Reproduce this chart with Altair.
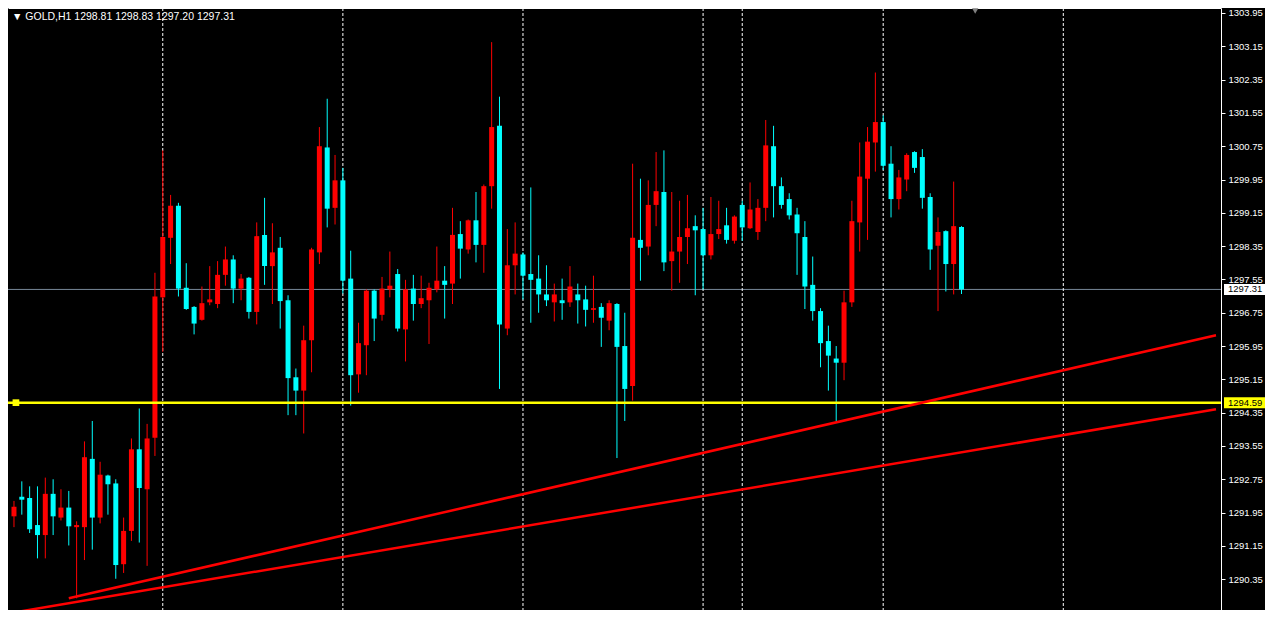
import altair as alt
import pandas as pd

# ---- candle data (GOLD, H1) ----
opens = [1291.86, 1292.33, 1292.30, 1291.65, 1291.41, 1292.40, 1291.83, 1292.07, 1291.60, 1291.60,
         1293.24, 1291.83, 1292.84, 1292.65, 1290.71, 1291.51, 1293.47, 1292.51, 1293.75, 1297.12,
         1298.55, 1299.32, 1297.35, 1296.89, 1296.58, 1297.00, 1296.96, 1297.66, 1298.03, 1297.33,
         1297.59, 1296.77, 1298.62, 1297.87, 1298.31, 1297.05, 1295.20, 1294.88, 1296.09, 1298.20,
         1300.72, 1299.27, 1299.93, 1297.57, 1295.27, 1295.97, 1297.28, 1296.70, 1297.31, 1297.68,
         1296.35, 1297.33, 1296.96, 1297.05, 1297.31, 1297.52, 1297.45, 1298.64, 1298.27, 1298.97,
         1298.38, 1299.79, 1301.24, 1296.37, 1297.89, 1298.15, 1297.68, 1297.57, 1297.19, 1297.00,
         1297.05, 1297.00, 1297.19, 1297.07, 1296.82, 1296.89, 1296.56, 1296.96, 1295.95, 1294.99,
         1298.50, 1298.34, 1299.34, 1299.65, 1297.99, 1298.22, 1298.57, 1298.83, 1298.76, 1298.13,
         1298.64, 1298.85, 1298.48, 1299.34, 1298.78, 1298.69, 1299.27, 1300.75, 1299.79, 1299.48,
         1299.11, 1298.57, 1297.42, 1296.79, 1296.07, 1295.65, 1295.55, 1297.00, 1298.92, 1299.97,
         1300.84, 1301.33, 1300.33, 1299.48, 1299.95, 1300.61, 1300.49, 1299.53, 1298.36, 1298.71,
         1297.92, 1298.81]
highs = [1292.23, 1292.70, 1292.58, 1292.58, 1292.79, 1292.75, 1292.51, 1292.47, 1291.74, 1293.66,
         1294.15, 1293.17, 1292.86, 1292.75, 1291.83, 1293.73, 1294.45, 1294.08, 1297.71, 1300.65,
         1299.58, 1299.39, 1297.94, 1296.91, 1297.38, 1297.87, 1297.99, 1298.34, 1298.13, 1297.68,
         1297.61, 1298.92, 1299.51, 1298.90, 1298.57, 1297.17, 1295.41, 1296.44, 1298.31, 1301.21,
         1301.89, 1300.54, 1300.23, 1298.24, 1296.51, 1297.31, 1297.31, 1297.61, 1298.22, 1297.80,
         1297.54, 1297.66, 1297.64, 1297.47, 1298.34, 1297.87, 1299.27, 1298.95, 1298.99, 1299.65,
         1299.83, 1303.25, 1301.94, 1298.76, 1298.92, 1298.20, 1299.76, 1298.13, 1297.89, 1297.45,
         1297.57, 1297.87, 1297.45, 1297.40, 1297.64, 1296.98, 1297.05, 1296.98, 1296.75, 1300.33,
         1299.97, 1299.93, 1300.61, 1300.65, 1299.65, 1299.44, 1299.58, 1299.09, 1299.27, 1299.53,
         1299.44, 1299.27, 1299.09, 1299.44, 1299.88, 1299.48, 1301.38, 1301.24, 1300.00, 1299.62,
         1299.27, 1298.95, 1298.10, 1296.86, 1296.44, 1295.95, 1297.28, 1299.44, 1300.84, 1301.21,
         1302.52, 1301.49, 1300.75, 1300.18, 1300.58, 1300.63, 1300.68, 1299.62, 1299.04, 1298.73,
         1299.90, 1298.83]
lows = [1291.60, 1291.90, 1291.46, 1290.85, 1290.85, 1291.41, 1291.76, 1291.16, 1289.89, 1290.81,
        1291.06, 1291.69, 1291.90, 1290.36, 1290.50, 1291.27, 1291.23, 1290.67, 1293.31, 1295.81,
        1297.92, 1297.14, 1296.82, 1296.23, 1296.56, 1296.93, 1296.86, 1297.40, 1296.98, 1297.05,
        1296.61, 1296.47, 1297.42, 1296.96, 1296.37, 1294.29, 1294.29, 1293.85, 1295.32, 1297.92,
        1298.80, 1298.87, 1297.21, 1294.52, 1294.83, 1295.25, 1296.07, 1296.56, 1297.12, 1296.30,
        1295.58, 1296.56, 1296.86, 1296.00, 1297.24, 1296.61, 1296.96, 1297.57, 1298.17, 1297.96,
        1297.71, 1299.25, 1294.92, 1296.21, 1297.19, 1297.07, 1296.51, 1296.75, 1296.91, 1296.54,
        1296.58, 1296.89, 1296.49, 1296.42, 1296.51, 1295.93, 1296.33, 1293.26, 1294.15, 1294.64,
        1297.52, 1298.13, 1298.83, 1297.75, 1297.28, 1297.47, 1297.92, 1297.17, 1297.31, 1298.03,
        1298.52, 1298.41, 1298.41, 1298.48, 1298.76, 1298.50, 1298.95, 1299.04, 1299.25, 1298.99,
        1297.66, 1296.84, 1296.56, 1295.44, 1294.88, 1294.15, 1295.13, 1296.89, 1298.22, 1298.50,
        1300.14, 1300.18, 1299.04, 1299.23, 1299.67, 1300.11, 1299.25, 1297.78, 1296.79, 1297.26,
        1297.19, 1297.20]
closes = [1292.09, 1292.26, 1291.55, 1291.41, 1292.40, 1291.86, 1292.07, 1291.62, 1291.65, 1293.28,
          1291.83, 1292.86, 1292.63, 1290.69, 1291.51, 1293.47, 1292.54, 1293.73, 1297.14, 1298.57,
          1299.32, 1297.33, 1296.84, 1296.49, 1296.98, 1297.07, 1297.66, 1298.03, 1297.33, 1297.57,
          1296.77, 1298.59, 1297.87, 1298.20, 1297.03, 1295.18, 1294.88, 1296.09, 1298.27, 1300.75,
          1299.25, 1299.93, 1297.52, 1295.25, 1296.02, 1297.28, 1296.61, 1297.33, 1297.40, 1296.37,
          1297.31, 1296.96, 1297.10, 1297.35, 1297.52, 1297.42, 1298.62, 1298.29, 1298.97, 1298.38,
          1299.79, 1301.21, 1296.47, 1297.89, 1298.17, 1297.64, 1297.54, 1297.19, 1297.05, 1297.19,
          1296.98, 1297.38, 1297.05, 1296.82, 1296.86, 1296.63, 1296.98, 1295.93, 1294.92, 1298.55,
          1298.31, 1299.34, 1299.67, 1297.96, 1298.22, 1298.57, 1298.78, 1298.73, 1298.13, 1298.64,
          1298.76, 1298.50, 1299.06, 1298.80, 1299.23, 1299.27, 1300.77, 1299.79, 1299.34, 1299.09,
          1298.66, 1297.38, 1296.79, 1296.02, 1295.72, 1295.55, 1297.00, 1298.95, 1300.02, 1300.86,
          1301.33, 1300.28, 1299.48, 1300.00, 1300.54, 1300.23, 1299.51, 1298.27, 1298.69, 1297.92,
          1298.83, 1297.31]

separator_bars = [19, 42, 65, 88, 93, 111, 134]
support_level = 1294.59
last_price = 1297.31
trend_upper_bars = [7, 153.5]
trend_upper_prices = [1289.89, 1296.21]
trend_lower_bars = [0, 153.5]
trend_lower_prices = [1289.55, 1294.43]
shift_marker_bar = [122.75]
tick_values = [1303.95, 1303.15, 1302.35, 1301.55, 1300.75, 1299.95, 1299.15, 1298.35, 1297.55,
               1296.75, 1295.95, 1295.15, 1294.35, 1293.55, 1292.75, 1291.95, 1291.15, 1290.35]
header = "\u25bc GOLD,H1  1298.81 1298.83 1297.20 1297.31"

W, H = 1213, 602
FONT = "Liberation Sans"

xscale = alt.Scale(domain=[-0.125, 153.5], nice=False, zero=False)
yscale = alt.Scale(domain=[1289.61, 1304.07], nice=False, zero=False)
x_axis = alt.Axis(orient="top", labels=False, ticks=False, grid=False, domainColor="white",
                  domainWidth=1, title="")
y_axis = alt.Axis(orient="right", values=tick_values, format=".2f", labelColor="white",
                  labelFont=FONT, labelFontSize=9.5, tickColor="white", tickSize=4,
                  labelPadding=3, domainColor="white", grid=False, title="",
                  labelFlush=False, labelOverlap=False)


def X(field):
    return alt.X(field, type="quantitative", scale=xscale, axis=x_axis)


def Y(field):
    return alt.Y(field, type="quantitative", scale=yscale, axis=y_axis)


df = pd.DataFrame({"bar": list(range(len(opens))), "open": opens, "high": highs,
                   "low": lows, "close": closes})
df["dir"] = ["up" if c >= o else "down" for o, c in zip(opens, closes)]
color = alt.Color("dir:N", scale=alt.Scale(domain=["up", "down"], range=["#ff0000", "#00ffff"]),
                  legend=None)

sep_df = pd.DataFrame({"bar": separator_bars})
separators = alt.Chart(sep_df).mark_rule(color="white", strokeWidth=1, strokeDash=[3, 2]).encode(
    x=X("bar"))

price_df = pd.DataFrame({"p": [last_price]})
price_line = alt.Chart(price_df).mark_rule(color="#778899", strokeWidth=1).encode(y=Y("p"))

wicks = alt.Chart(df).mark_rule(strokeWidth=1).encode(x=X("bar"), y=Y("low"), y2="high", color=color)
bodies = alt.Chart(df).mark_bar(size=5).encode(x=X("bar"), y=Y("open"), y2="close", color=color)

sup_df = pd.DataFrame({"p": [support_level]})
support = alt.Chart(sup_df).mark_rule(color="#ffff00", strokeWidth=2.5).encode(y=Y("p"))
sup_anchor_df = pd.DataFrame({"bar": [0.25], "p": [support_level]})
support_anchor = alt.Chart(sup_anchor_df).mark_point(shape="square", filled=True, size=45,
                                                     color="#ffff00", opacity=1).encode(
    x=X("bar"), y=Y("p"))

trend_df = pd.DataFrame({
    "bar": trend_upper_bars + trend_lower_bars,
    "price": trend_upper_prices + trend_lower_prices,
    "line": ["upper", "upper", "lower", "lower"],
})
trends = alt.Chart(trend_df).mark_line(color="#ff0000", strokeWidth=2.5, clip=True).encode(
    x=X("bar"), y=Y("price"), detail="line:N")

tag_df = pd.DataFrame({"p": [last_price, support_level],
                       "label": [f"{last_price:.2f}", f"{support_level:.2f}"],
                       "bg": ["white", "#ffff00"]})
tag_boxes = alt.Chart(tag_df).mark_rule(strokeWidth=11).encode(
    x=alt.value(W + 3), x2=alt.value(W + 44), y=Y("p"),
    color=alt.Color("bg:N", scale=None, legend=None))
tag_text = alt.Chart(tag_df).mark_text(align="left", baseline="middle", font=FONT, fontSize=9.5,
                                       color="black").encode(
    x=alt.value(W + 7), y=Y("p"), text="label:N")

shift_df = pd.DataFrame({"bar": shift_marker_bar})
shift_marker = alt.Chart(shift_df).mark_point(shape="triangle-down", filled=True, size=40,
                                              color="#808080", opacity=1).encode(
    x=X("bar"), y=alt.value(3))

head_df = pd.DataFrame({"t": [header]})
head = alt.Chart(head_df).mark_text(align="left", baseline="middle", font=FONT, fontSize=10.5,
                                    color="white").encode(
    x=alt.value(4), y=alt.value(9), text="t:N")

chart = alt.layer(price_line, separators, wicks, bodies, support, support_anchor, trends,
                  tag_boxes, tag_text, shift_marker, head).properties(
    width=W, height=H,
    autosize=alt.AutoSizeParams(type="none"),
    padding={"left": 0, "top": 0, "right": 44, "bottom": 0},
    background="black",
).configure_view(strokeWidth=0)

chart.save("out.html", embed_options={"renderer": "svg", "actions": False})
